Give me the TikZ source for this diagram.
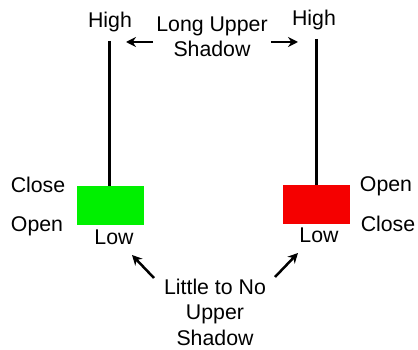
\documentclass[tikz,border=0pt]{standalone}
\usepackage{fontspec}
\setmainfont{Liberation Sans}
\usetikzlibrary{positioning,arrows.meta}

\begin{document}
\begin{tikzpicture}[
  x=1pt, y=-1pt,
  font=\fontsize{21.3}{25.5}\selectfont,
  candle/.style={minimum width=67pt, minimum height=39pt, inner sep=0pt, outer sep=0pt},
  wick/.style={line width=3pt},
  tag/.style={inner sep=0pt, anchor=base},
  note/.style={inner sep=0pt, align=center},
  pointer/.style={-{Stealth[length=10pt,width=10pt]}, line width=2.5pt}
]
\useasboundingbox (0,0) rectangle (418,350);

% bullish candle
\node[candle, fill={rgb,255:red,0;green,240;blue,0}] (bull) at (110,205.5) {};
\coordinate (bullTop) at (109,41);
\draw[wick] (bullTop) -- (bull.north -| bullTop);
\node[tag] (bullHigh) at (110,28) {High};
\node[tag] (bullClose) at (38,193) {Close};
\node[tag] (bullOpen) at (37,232) {Open};
\node[tag] (bullLow) at (114,244) {Low};

% bearish candle
\node[candle, fill={rgb,255:red,245;green,0;blue,0}] (bear) at (316,204.5) {};
\coordinate (bearTop) at (316,39);
\draw[wick] (bearTop) -- (bear.north -| bearTop);
\node[tag] (bearHigh) at (314,26) {High};
\node[tag] (bearOpen) at (386,192) {Open};
\node[tag] (bearClose) at (388,231) {Close};
\node[tag] (bearLow) at (319,243) {Low};

% shadow notes
\node[note] (upper) at (212,37) {Long Upper\\Shadow};
\coordinate (upperL) at (126,42);
\coordinate (upperR) at (298,42);
\draw[pointer] (upper.west |- upperL) ++(-3,0) -- (upperL);
\draw[pointer] (upper.east |- upperR) ++(3,0) -- (upperR);

\node[note] (lower) at (215,312) {Little to No\\Upper\\Shadow};
\coordinate (lowerL) at (132,255);
\coordinate (lowerR) at (298,253);
\draw[pointer] (154,278) -- (lowerL);
\draw[pointer] (275,277) -- (lowerR);
\end{tikzpicture}
\end{document}
